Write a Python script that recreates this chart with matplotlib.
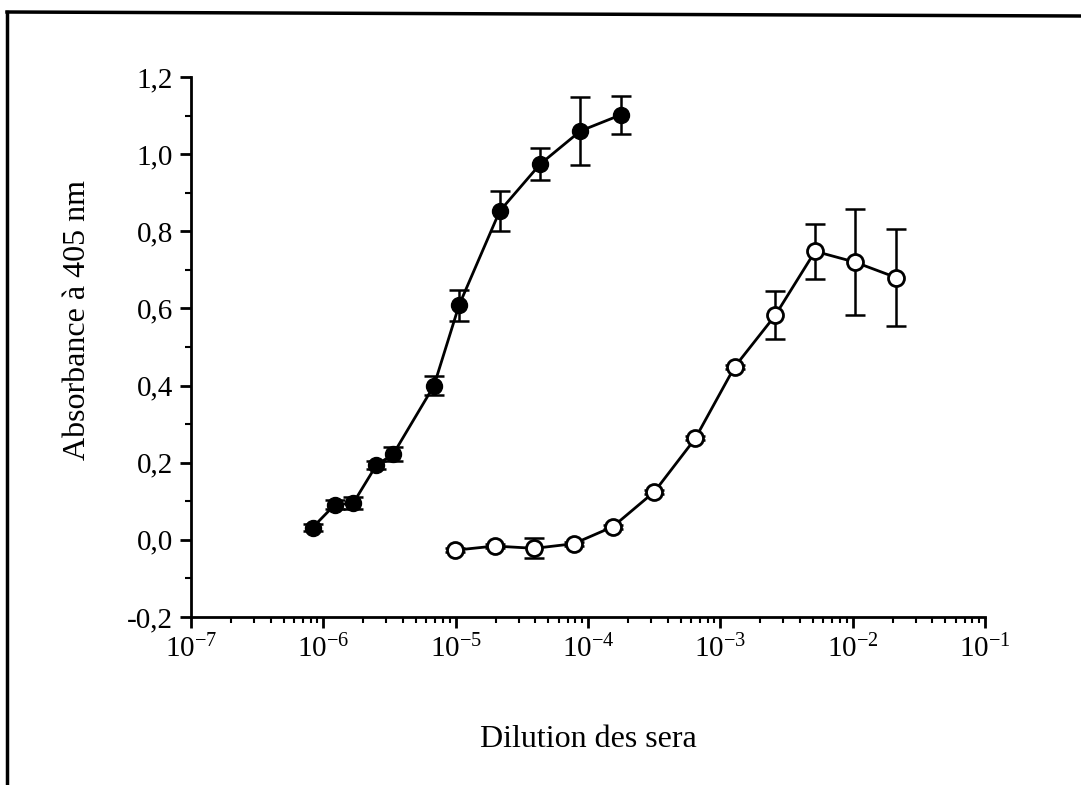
import matplotlib
matplotlib.use("Agg")
import matplotlib.pyplot as plt
from matplotlib.lines import Line2D
from matplotlib.ticker import FixedLocator, FixedFormatter, LogLocator, MultipleLocator, NullFormatter

plt.rcParams["font.family"] = ["Liberation Serif", "DejaVu Serif"]
plt.rcParams["mathtext.fontset"] = "custom"
plt.rcParams["mathtext.rm"] = "Liberation Serif"
plt.rcParams["mathtext.it"] = "Liberation Serif:italic"

# Filled circles (immune serum)
filled_x = [8.3e-7, 1.22e-6, 1.68e-6, 2.52e-6, 3.37e-6, 6.86e-6, 1.06e-5,
            2.15e-5, 4.35e-5, 8.77e-5, 1.78e-4]
filled_y = [0.032, 0.091, 0.095, 0.194, 0.222, 0.400, 0.608,
            0.852, 0.974, 1.060, 1.102]
filled_err = [0.010, 0.012, 0.016, 0.010, 0.018, 0.024, 0.040,
              0.052, 0.042, 0.087, 0.049]

# Open circles (control serum)
open_x = [9.8e-6, 1.97e-5, 3.94e-5, 7.8e-5, 1.54e-4, 3.18e-4, 6.47e-4,
          1.28e-3, 2.6e-3, 5.2e-3, 1.04e-2, 2.13e-2]
open_y = [-0.027, -0.016, -0.022, -0.010, 0.034, 0.125, 0.263,
          0.448, 0.582, 0.748, 0.720, 0.680]
open_err = [0.005, 0.005, 0.026, 0.005, 0.005, 0.005, 0.005,
            0.005, 0.062, 0.072, 0.137, 0.125]

y_ticks = [-0.2, 0.0, 0.2, 0.4, 0.6, 0.8, 1.0, 1.2]
y_tick_labels = ["-0,2", "0,0", "0,2", "0,4", "0,6", "0,8", "1,0", "1,2"]

fig = plt.figure(figsize=(10.81, 7.85), dpi=100)
ax = fig.add_axes([0.1767, 0.214, 0.7345, 0.688])

ax.errorbar(filled_x, filled_y, yerr=filled_err, fmt="none", ecolor="black",
            elinewidth=1.8, capsize=7, capthick=1.8, zorder=2)
ax.plot(filled_x, filled_y, "-o", color="black", lw=2, ms=11.5,
        mfc="black", mec="black", zorder=3)

ax.errorbar(open_x, open_y, yerr=open_err, fmt="none", ecolor="black",
            elinewidth=1.8, capsize=7, capthick=1.8, zorder=2)
ax.plot(open_x, open_y, "-o", color="black", lw=2, ms=11.5,
        mfc="white", mec="black", mew=2, zorder=3)

ax.set_xscale("log")
ax.set_xlim(1e-7, 1e-1)
ax.set_ylim(-0.2, 1.2)

ax.xaxis.set_major_locator(LogLocator(base=10, numticks=10))
ax.xaxis.set_minor_locator(LogLocator(base=10, subs=range(2, 10), numticks=100))
ax.xaxis.set_minor_formatter(NullFormatter())
ax.yaxis.set_major_locator(FixedLocator(y_ticks))
ax.yaxis.set_major_formatter(FixedFormatter(y_tick_labels))
ax.yaxis.set_minor_locator(MultipleLocator(0.1))

for s in ["top", "right"]:
    ax.spines[s].set_visible(False)
for s in ["left", "bottom"]:
    ax.spines[s].set_linewidth(2)

ax.tick_params(which="major", direction="out", length=8, width=2,
               labelsize=21, colors="black", pad=5)
ax.tick_params(which="minor", direction="out", length=4, width=1.5)

ax.set_xlabel("Dilution des sera", fontsize=23)
ax.set_ylabel("Absorbance à 405 nm", fontsize=23)
ax.xaxis.set_label_coords(0.5, -0.2)
ax.yaxis.set_label_coords(-0.125, 0.55)

# scanned page frame (left and top edges)
fig.add_artist(Line2D([7 / 1081, 7 / 1081], [0, 1 - 12 / 785],
                      transform=fig.transFigure, color="black", lw=2.5))
fig.add_artist(Line2D([7 / 1081, 1], [1 - 12 / 785, 1 - 16 / 785],
                      transform=fig.transFigure, color="black", lw=2.5))

fig.savefig("out.png", dpi=100, facecolor="white")
